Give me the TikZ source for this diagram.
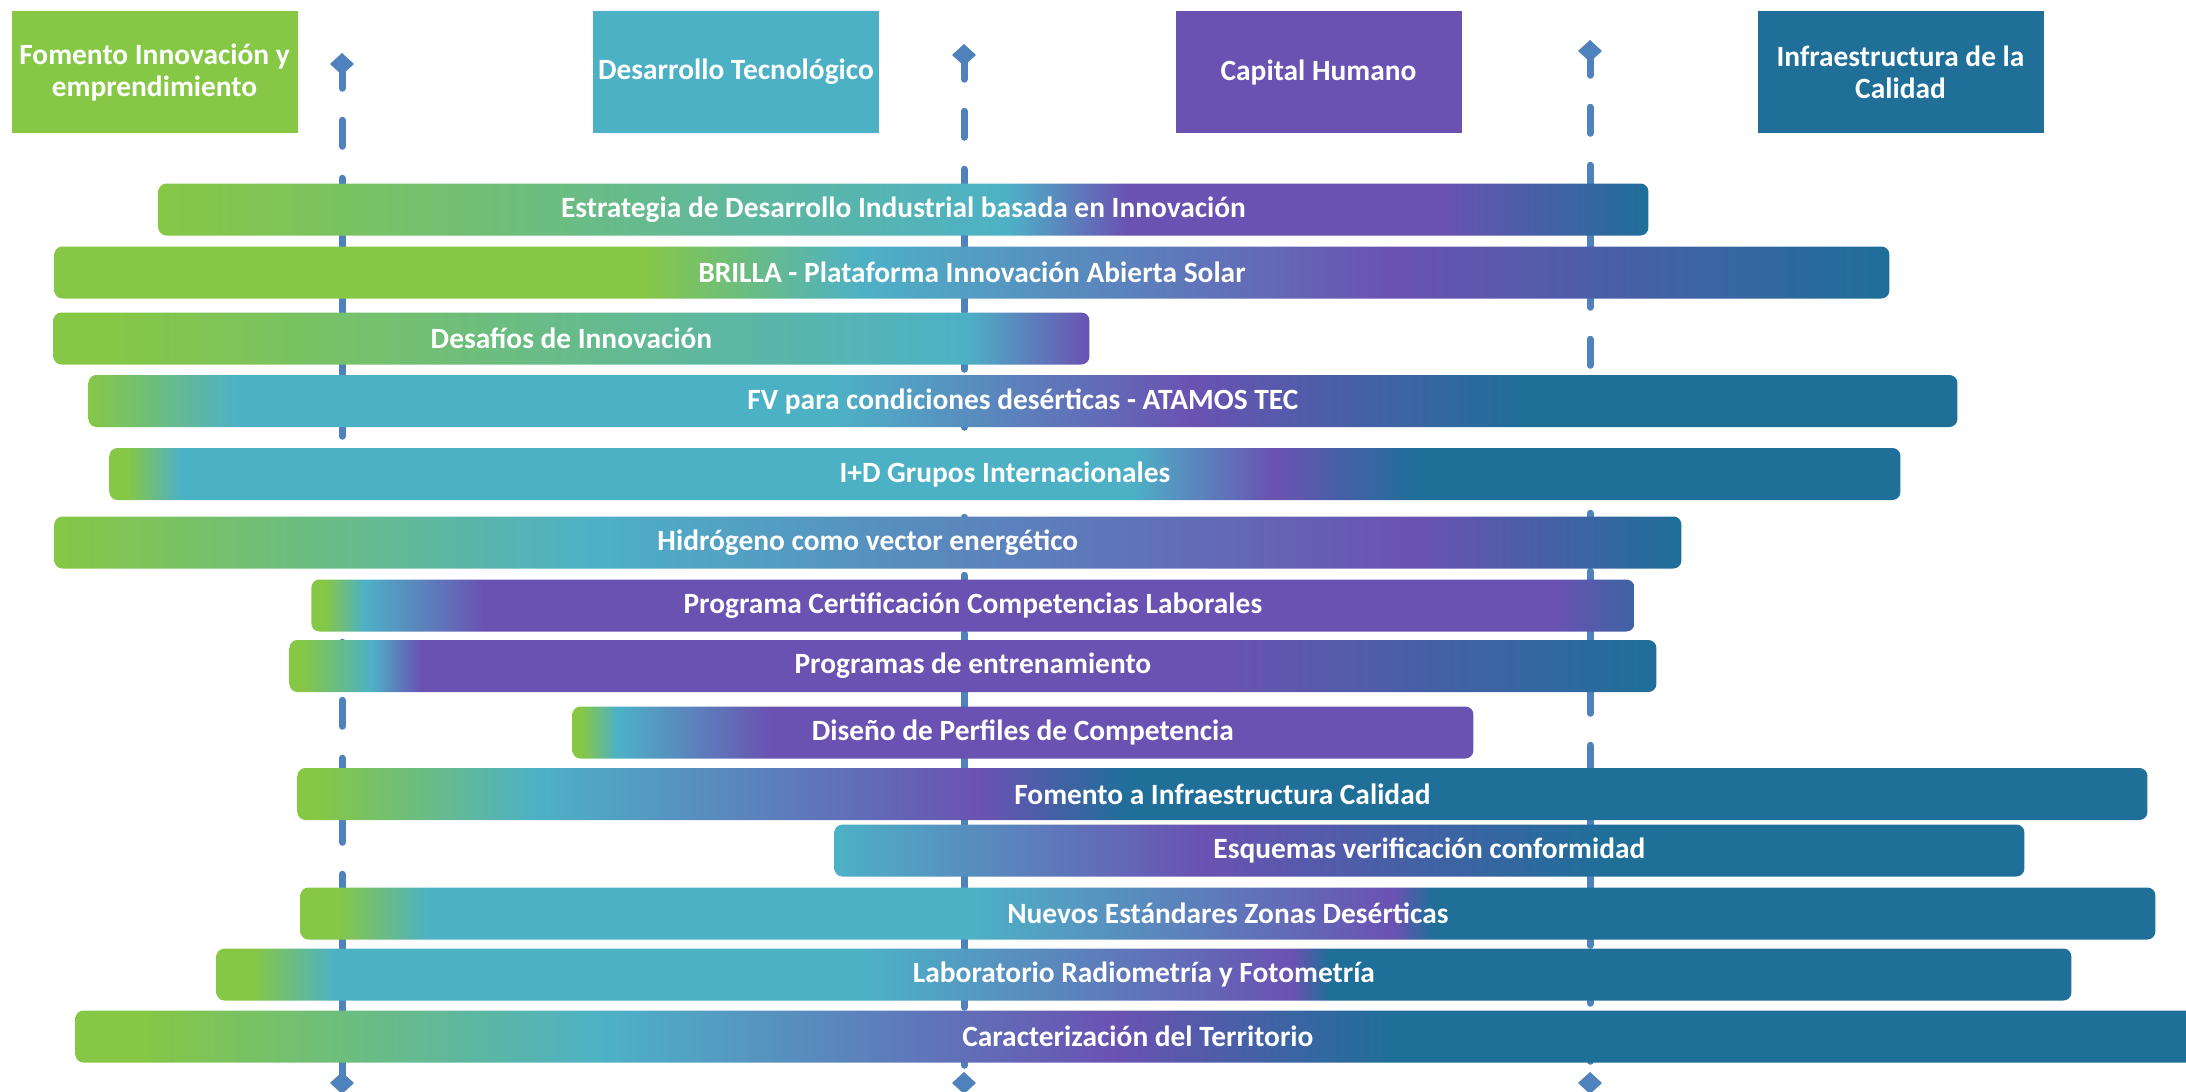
\documentclass[tikz,border=0pt]{standalone}
\usepackage{fontspec}
\setmainfont{Carlito}
\usepackage{tikz}
\usetikzlibrary{arrows.meta}

\definecolor{fgreen}{RGB}{134,199,69}
\definecolor{fteal}{RGB}{77,177,198}
\definecolor{fpurple}{RGB}{106,82,178}
\definecolor{fblue}{RGB}{31,111,153}
\definecolor{faxis}{RGB}{79,129,189}

\pgfdeclarehorizontalshading{est}{100bp}{color(0bp)=(fgreen); color(25bp)=(fgreen); color(53.5bp)=(fteal); color(57.5bp)=(fpurple); color(68bp)=(fpurple); color(75bp)=(fblue); color(100bp)=(fblue)}
\pgfdeclarehorizontalshading{brilla}{100bp}{color(0bp)=(fgreen); color(41bp)=(fgreen); color(47bp)=(fteal); color(61.5bp)=(fpurple); color(75bp)=(fblue); color(100bp)=(fblue)}
\pgfdeclarehorizontalshading{desafios}{100bp}{color(0bp)=(fgreen); color(27.5bp)=(fgreen); color(69bp)=(fteal); color(75bp)=(fpurple); color(100bp)=(fpurple)}
\pgfdeclarehorizontalshading{fv}{100bp}{color(0bp)=(fgreen); color(25bp)=(fgreen); color(29bp)=(fteal); color(45bp)=(fteal); color(54.5bp)=(fpurple); color(63.5bp)=(fblue); color(100bp)=(fblue)}
\pgfdeclarehorizontalshading{ide}{100bp}{color(0bp)=(fgreen); color(25.5bp)=(fgreen); color(27bp)=(fteal); color(53.5bp)=(fteal); color(57.5bp)=(fpurple); color(61.5bp)=(fblue); color(100bp)=(fblue)}
\pgfdeclarehorizontalshading{hidro}{100bp}{color(0bp)=(fgreen); color(25bp)=(fgreen); color(41.5bp)=(fteal); color(67bp)=(fpurple); color(75bp)=(fblue); color(100bp)=(fblue)}
\pgfdeclarehorizontalshading{cert}{100bp}{color(0bp)=(fgreen); color(25.5bp)=(fgreen); color(27bp)=(fteal); color(31.5bp)=(fpurple); color(72bp)=(fpurple); color(75bp)=(fblue!60!fpurple); color(100bp)=(fblue!60!fpurple)}
\pgfdeclarehorizontalshading{entr}{100bp}{color(0bp)=(fgreen); color(25.5bp)=(fgreen); color(28bp)=(fteal); color(29.8bp)=(fpurple); color(59bp)=(fpurple); color(75bp)=(fblue); color(100bp)=(fblue)}
\pgfdeclarehorizontalshading{diseno}{100bp}{color(0bp)=(fgreen); color(25.5bp)=(fgreen); color(27.5bp)=(fteal); color(36bp)=(fpurple); color(100bp)=(fpurple)}
\pgfdeclarehorizontalshading{fomento}{100bp}{color(0bp)=(fgreen); color(25.5bp)=(fgreen); color(31.5bp)=(fteal); color(43.5bp)=(fpurple); color(47.5bp)=(fblue); color(100bp)=(fblue)}
\pgfdeclarehorizontalshading{esquemas}{100bp}{color(0bp)=(fteal); color(25bp)=(fteal); color(40.5bp)=(fpurple); color(57.5bp)=(fblue); color(100bp)=(fblue)}
\pgfdeclarehorizontalshading{nuevos}{100bp}{color(0bp)=(fgreen); color(26bp)=(fgreen); color(28.5bp)=(fteal); color(43bp)=(fteal); color(54.5bp)=(fpurple); color(55.5bp)=(fblue); color(100bp)=(fblue)}
\pgfdeclarehorizontalshading{lab}{100bp}{color(0bp)=(fgreen); color(26bp)=(fgreen); color(28.2bp)=(fteal); color(42.5bp)=(fteal); color(54bp)=(fpurple); color(55bp)=(fblue); color(100bp)=(fblue)}
\pgfdeclarehorizontalshading{territorio}{100bp}{color(0bp)=(fgreen); color(26.5bp)=(fgreen); color(37.5bp)=(fteal); color(49.5bp)=(fpurple); color(56bp)=(fblue); color(100bp)=(fblue)}

\begin{document}
\begin{tikzpicture}
  [
   x=0.5pt, y=-0.5pt,
   hd/.style={rectangle,inner sep=0pt,minimum width=143pt,minimum height=61pt,align=center,text=white,font=\fontsize{14.7}{16}\selectfont\bfseries},
   prog/.style={rectangle,rounded corners=4pt,shade,shading=#1,inner sep=0pt,minimum height=26pt,anchor=west,text=white,font=\fontsize{14.7}{16}\selectfont\bfseries},
   ax/.style={draw=faxis,line width=3.5pt,line cap=round,dash pattern=on 13pt off 16pt,dash phase=4pt,{Diamond[length=11pt,width=12pt]}-{Diamond[length=11pt,width=12pt]}}
  ]
   \useasboundingbox (0,0) rectangle (2186,1092);
   \clip (0,0) rectangle (2186,1092);

   \coordinate (a1t) at (342,53);
   \coordinate (a1b) at (342,1094);
   \coordinate (a2t) at (964,44);
   \coordinate (a2b) at (964,1094);
   \coordinate (a3t) at (1590,40);
   \coordinate (a3b) at (1590,1094);

   \draw[ax] (a1t) -- (a1b);
   \draw[ax] (a2t) -- (a2b);
   \draw[ax] (a3t) -- (a3b);

   \node[hd,fill=fgreen] (hfom) at (154.5,72) {Fomento Innovación y\\emprendimiento};
   \node[hd,fill=fteal] (hdes) at (736,72) {Desarrollo Tecnológico};
   \node[hd,fill=fpurple] (hcap) at (1318.5,72) {Capital Humano};
   \node[hd,fill=fblue] (hinf) at (1900.5,72) {Infraestructura de la\\Calidad};

   \node[prog=est,minimum width=745pt] (est) at (158,209.5) {Estrategia de Desarrollo Industrial basada en Innovación};
   \node[prog=brilla,minimum width=917.5pt] (brilla) at (54,272.5) {BRILLA - Plataforma Innovación Abierta Solar};
   \node[prog=desafios,minimum width=518pt] (desafios) at (53,338.5) {Desafíos de Innovación};
   \node[prog=fv,minimum width=934.5pt] (fv) at (88,401) {FV para condiciones desérticas - ATAMOS TEC};
   \node[prog=ide,minimum width=895.5pt] (ide) at (109,474) {I+D Grupos Internacionales};
   \node[prog=hidro,minimum width=813.5pt] (hidro) at (54,542.5) {Hidrógeno como vector energético};
   \node[prog=cert,minimum width=661.5pt] (cert) at (311,605.5) {Programa Certificación Competencias Laborales};
   \node[prog=entr,minimum width=683.5pt] (entr) at (289,666) {Programas de entrenamiento};
   \node[prog=diseno,minimum width=450.5pt] (diseno) at (572,732.5) {Diseño de Perfiles de Competencia};
   \node[prog=fomento,minimum width=925pt] (fomento) at (297,794) {Fomento a Infraestructura Calidad};
   \node[prog=esquemas,minimum width=595pt] (esquemas) at (834,850.5) {Esquemas verificación conformidad};
   \node[prog=nuevos,minimum width=927.5pt] (nuevos) at (300,913.5) {Nuevos Estándares Zonas Desérticas};
   \node[prog=lab,minimum width=927.5pt] (lab) at (216,974.5) {Laboratorio Radiometría y Fotometría};
   \node[prog=territorio,minimum width=1062.5pt] (territorio) at (75,1036.5) {Caracterización del Territorio};

\end{tikzpicture}
\end{document}
